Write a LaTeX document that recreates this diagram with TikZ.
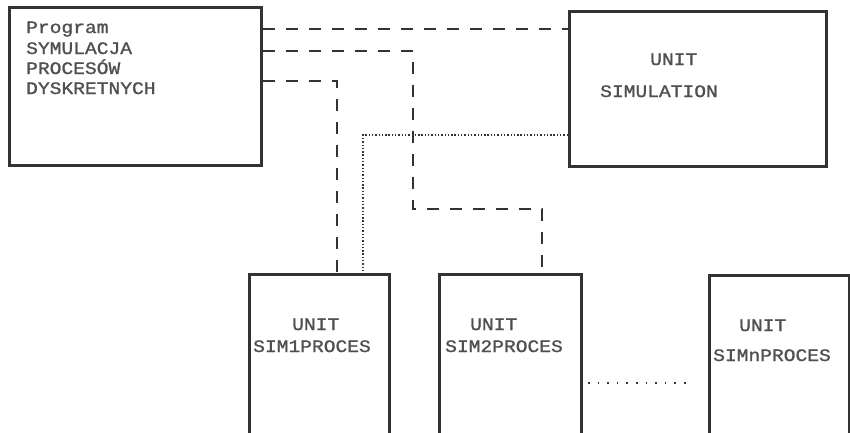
\documentclass[tikz,border=0pt]{standalone}
\usepackage{fontspec}
\newfontfamily\dotfont[FakeStretch=1.12,FakeBold=1.2]{Liberation Mono}
\definecolor{ink}{HTML}{333333}
\definecolor{txt}{HTML}{505050}
\begin{document}
\begin{tikzpicture}[x=1pt,y=-1pt,
  box/.style={draw=ink,line width=2.6pt,minimum width=#1,inner sep=0pt,anchor=north west},
  lbl/.style={anchor=base west,inner sep=0pt,text=txt,font=\dotfont\fontsize{17.5}{17.5}\selectfont},
  dashl/.style={draw=ink,line width=2.6pt,dash pattern=on 12pt off 11pt},
  dotl/.style={draw=ink,line width=1.6pt,dash pattern=on 1.4pt off 1.9pt}]
\useasboundingbox[fill=white] (0,0) rectangle (850,432);
% boxes
\node[box=252pt,minimum height=158pt] (prog) at (8,6) {};
\node[box=257pt,minimum height=155pt] (sim) at (568,10) {};
\node[box=140pt,minimum height=170pt] (p1) at (248,273) {};
\node[box=142pt,minimum height=170pt] (p2) at (438,273) {};
\node[box=140pt,minimum height=170pt] (pn) at (708,274) {};
% texts
\node[lbl] (t1) at (26,33) {Program};
\node[lbl] (t2) at (26,54) {SYMULACJA};
\node[lbl] (t3) at (26,74) {PROCESÓW};
\node[lbl] (t4) at (26,94) {DYSKRETNYCH};
\node[lbl] (s1) at (650,65) {UNIT};
\node[lbl] (s2) at (600,97) {SIMULATION};
\node[lbl] (a1) at (292,330) {UNIT};
\node[lbl] (a2) at (253,352) {SIM1PROCES};
\node[lbl] (b1) at (470,330) {UNIT};
\node[lbl] (b2) at (445,352) {SIM2PROCES};
\node[lbl] (c1) at (739,331) {UNIT};
\node[lbl] (c2) at (713,361) {SIMnPROCES};
% connectors
\draw[dashl] (prog.east |- 0,29) -- (sim.west |- 0,29);
\draw[dashl] (prog.east |- 0,51) -- (413,51) -- (413,209) -- (542,209) -- (542,0 |- p2.north);
\draw[dashl] (prog.east |- 0,81) -- (337,81) -- (337,0 |- p1.north);
\draw[dotl] (sim.west |- 0,135) -- (363,135) -- (363,0 |- p1.north);
\coordinate (d1) at (588,383);
\coordinate (d2) at (693,383);
\draw[dotl,dash pattern=on 1.6pt off 8pt] (d1) -- (d2);
\end{tikzpicture}
\end{document}
